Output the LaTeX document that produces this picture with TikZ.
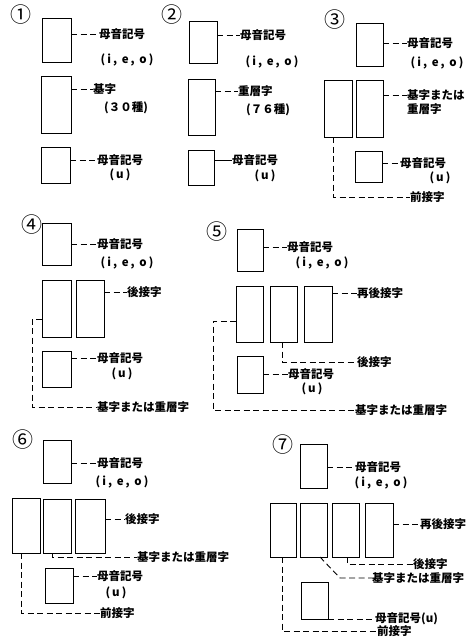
\documentclass[tikz,border=0pt]{standalone}
\usepackage{fontspec}
\newfontfamily\jp{Noto Sans CJK JP}
\newfontfamily\jpw{Noto Sans CJK JP}[LetterSpace=18]
\usetikzlibrary{calc}
\tikzset{
  bx/.style={draw, line width=0.9pt, inner sep=0pt, outer sep=0pt},
  lbl/.style={inner sep=0pt, font=\jp\bfseries\fontsize{11.5}{13}\selectfont},
  lblp/.style={inner sep=0pt, font=\jpw\bfseries\fontsize{11.5}{13}\selectfont},
  lblw/.style={lbl, anchor=west},
  num/.style={inner sep=0pt, font=\jp\fontsize{21}{22}\selectfont},
  ld/.style={line width=0.9pt, dash pattern=on 6pt off 3.5pt},
  ls/.style={line width=0.9pt}
}
\newcommand\mybox[5]{\node[bx, minimum width={(#4-#2)*1pt}, minimum height={(#5-#3)*1pt}] (#1) at ({(#2+#4)/2},{(#3+#5)/2}) {};}
\begin{document}
\begin{tikzpicture}[x=1pt,y=-1pt]
\useasboundingbox (0,0) rectangle (472,637);
% ---------- panel 1
\node[num] (c1) at (21,15) {①};
\mybox{b11}{42}{18}{71}{62}
\node[lblw] (t11) at (99,34) {母音記号};
\node[lblp] (p11) at (127,60) {(i, e, o)};
\draw[ld] (b11.east |- t11.west) -- (t11.west);
\mybox{b12}{41}{76}{71}{133}
\node[lblw] (t12) at (93,89) {基字};
\node[lbl] (p12) at (126,108) {(３０種)};
\draw[ld] (b12.east |- t12.west) -- (t12.west);
\mybox{b13}{41}{147}{70}{183}
\node[lblw] (t13) at (97,160) {母音記号};
\node[lblp] (p13) at (120,175) {(u)};
\draw[ld] (b13.east |- t13.west) -- (t13.west);
% ---------- panel 2
\node[num] (c2) at (172,15) {②};
\mybox{b21}{189}{21}{217}{63}
\node[lblw] (t21) at (240,35) {母音記号};
\node[lblp] (p21) at (272,62) {(i, e, o)};
\draw[ld] (b21.east |- t21.west) -- (t21.west);
\mybox{b22}{188}{79}{215}{135}
\node[lblw] (t22) at (238,91) {重層字};
\node[lbl] (p22) at (268,110) {(７６種)};
\draw[ld] (b22.east |- t22.west) -- (t22.west);
\mybox{b23}{188}{150}{214}{185}
\node[lblw] (t23) at (232,160) {母音記号};
\node[lblp] (p23) at (265,176) {(u)};
\draw[ls] (b23.east |- t23.west) -- (t23.west);
% ---------- panel 3
\node[num] (c3) at (335,20) {③};
\mybox{b31}{356}{23}{383}{66}
\node[lblw] (t31) at (407,43) {母音記号};
\node[lblp] (p31) at (437,63) {(i, e, o)};
\draw[ld] (b31.east |- t31.west) -- (t31.west);
\mybox{b32}{324}{80}{352}{137}
\mybox{b33}{356}{80}{383}{137}
\node[lblw] (t33) at (407,95) {基字または};
\node[lblw] (t33b) at (407,109) {重層字};
\draw[ld] (b33.east |- t33.west) -- (t33.west);
\mybox{b34}{355}{151}{382}{182}
\node[lblw] (t34) at (400,163) {母音記号};
\node[lblp] (p34) at (440,178) {(u)};
\draw[ld] (b34.east |- t34.west) -- (t34.west);
\node[lblw] (t35) at (410,197) {前接字};
\coordinate (k3) at (333,137);
\draw[ld] (k3) |- (t35.west);
% ---------- panel 4
\node[num] (c4) at (32,225) {④};
\mybox{b41}{42}{223}{71}{265}
\node[lblw] (t41) at (97,244) {母音記号};
\node[lblp] (p41) at (127,263) {(i, e, o)};
\draw[ld] (b41.east |- t41.west) -- (t41.west);
\mybox{b42}{42}{280}{71}{337}
\mybox{b43}{76}{280}{104}{337}
\node[lblw] (t43) at (127,292) {後接字};
\draw[ld] (b43.east |- t43.west) -- (t43.west);
\node[lblw] (t45) at (97,407) {基字または重層字};
\coordinate (k4) at (32,319);
\draw[ld] (b42.west |- k4) -- (k4) |- (t45.west);
\mybox{b44}{42}{351}{71}{387}
\node[lblw] (t44) at (97,358) {母音記号};
\node[lblp] (p44) at (122,374) {(u)};
\draw[ld] (b44.east |- t44.west) -- (t44.west);
% ---------- panel 5
\node[num] (c5) at (217,232) {⑤};
\mybox{b51}{237}{229}{263}{271}
\node[lblw] (t51) at (287,247) {母音記号};
\node[lblp] (p51) at (322,263) {(i, e, o)};
\draw[ld] (b51.east |- t51.west) -- (t51.west);
\mybox{b52}{236}{286}{263}{342}
\mybox{b53}{270}{286}{297}{342}
\mybox{b54}{304}{286}{332}{342}
\node[lblw] (t54) at (357,293) {再後接字};
\draw[ld] (b54.east |- t54.west) -- (t54.west);
\node[lblw] (t53) at (357,362) {後接字};
\coordinate (k53) at (282,342);
\draw[ld] (k53) |- (t53.west);
\node[lblw] (t55) at (355,410) {基字または重層字};
\coordinate (k5) at (213,321);
\draw[ld] (b52.west |- k5) -- (k5) |- (t55.west);
\mybox{b55}{237}{356}{263}{393}
\node[lblw] (t56) at (288,374) {母音記号};
\node[lblp] (p56) at (312,389) {(u)};
\draw[ld] (b55.east |- t56.west) -- (t56.west);
% ---------- panel 6
\node[num] (c6) at (23,440) {⑥};
\mybox{b61}{43}{440}{71}{483}
\node[lblw] (t61) at (97,463) {母音記号};
\node[lblp] (p61) at (122,482) {(i, e, o)};
\draw[ld] (b61.east |- t61.west) -- (t61.west);
\mybox{b62}{12}{498}{40}{553}
\mybox{b63}{43}{499}{71}{553}
\mybox{b64}{75}{499}{105}{553}
\node[lblw] (t64) at (125,519) {後接字};
\draw[ld] (b64.east |- t64.west) -- (t64.west);
\node[lblw] (t63) at (137,557) {基字または重層字};
\coordinate (k63) at (52,553);
\draw[ld] (k63) |- (t63.west);
\node[lblw] (t62) at (100,613) {前接字};
\coordinate (k62) at (21,553);
\draw[ld] (k62) |- (t62.west);
\mybox{b65}{45}{568}{73}{603}
\node[lblw] (t65) at (97,576) {母音記号};
\node[lblp] (p65) at (116,593) {(u)};
\draw[ld] (b65.east |- t65.west) -- (t65.west);
% ---------- panel 7
\node[num] (c7) at (283,445) {⑦};
\mybox{b71}{300}{444}{327}{488}
\node[lblw] (t71) at (355,467) {母音記号};
\node[lblp] (p71) at (381,483) {(i, e, o)};
\draw[ld] (b71.east |- t71.west) -- (t71.west);
\mybox{b72}{270}{503}{296}{557}
\mybox{b73}{300}{503}{327}{557}
\mybox{b74}{332}{503}{359}{557}
\mybox{b75}{365}{503}{393}{557}
\node[lblw] (t75) at (420,524) {再後接字};
\draw[ld] (b75.east |- t75.west) -- (t75.west);
\node[lblw] (t74) at (413,564) {後接字};
\coordinate (k74) at (347,557);
\draw[ld] (k74) |- (t74.west);
\node[lblw] (t73) at (372,578) {基字または重層字};
\coordinate (k73) at (320,557);
\coordinate (k73b) at (340,578);
\draw[ld] (k73) -- (k73b) -- (t73.west);
\node[lblw] (t72) at (377,631) {前接字};
\coordinate (k72) at (282,557);
\draw[ld] (k72) |- (t72.west);
\mybox{b76}{301}{582}{328}{619}
\node[lblw] (t76) at (375,619) {母音記号(u)};
\draw[ld] (b76.south east) -- (t76.west);
\end{tikzpicture}
\end{document}
